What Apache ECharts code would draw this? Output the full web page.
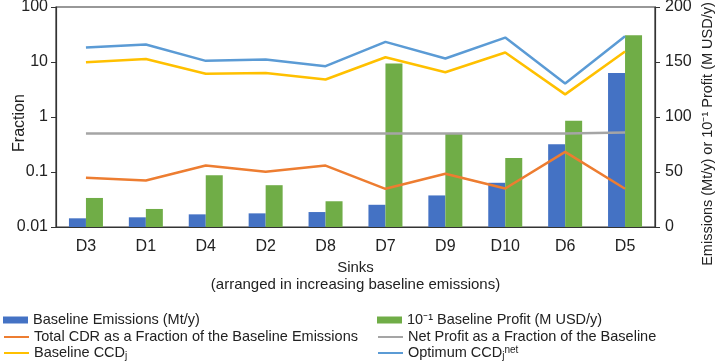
<!DOCTYPE html>
<html>
<head>
<meta charset="utf-8">
<script src="https://cdn.jsdelivr.net/npm/echarts@6/dist/echarts.min.js"></script>
<style>
html,body{margin:0;padding:0;background:#fff;}
#c{width:721px;height:363px;}
</style>
</head>
<body>
<div id="c"></div>
<script>
const categories = ['D3','D1','D4','D2','D8','D7','D9','D10','D6','D5'];
const baselineEmissions = [7.9, 8.8, 11.5, 12.4, 13.6, 20.2, 28.7, 40.2, 75.2, 139.9];
const baselineProfitTenth = [26.4, 16.4, 47, 38, 23.4, 148.6, 85.2, 62.8, 96.7, 174.3];
const cdrFraction = [0.079, 0.070, 0.131, 0.101, 0.131, 0.0495, 0.093, 0.050, 0.232, 0.0495];
const netProfitFraction = [0.5, 0.5, 0.5, 0.5, 0.5, 0.5, 0.5, 0.5, 0.5, 0.52];
const baselineCCD = [9.9, 11.3, 6.1, 6.3, 4.8, 12.2, 6.5, 14.9, 2.58, 15.5];
const optimumCCD = [18.3, 20.8, 10.5, 11.1, 8.4, 23.2, 11.6, 27.8, 4.07, 29.4];
const leftTicks = [0.01, 0.1, 1, 10, 100];
const rightTicks = [0, 50, 100, 150, 200];

const FONT = 'Liberation Sans';
const TXT = '#222';
const names = {
  em: 'Baseline Emissions (Mt/y)',
  pr: '10\u207B\u00B9 Baseline Profit (M USD/y)',
  cdr: 'Total CDR as a Fraction of the Baseline Emissions',
  np: 'Net Profit as a Fraction of the Baseline',
  bccd: 'Baseline CCDj',
  occd: 'Optimum CCDj net'
};
const legendFmt = function (n) {
  if (n === names.bccd) return 'Baseline CCD{sub|j}';
  if (n === names.occd) return 'Optimum CCD{sub|j}{sup|net}';
  return n;
};
const legendText = {
  fontFamily: FONT, fontSize: 14.5, color: TXT, lineHeight: 16,
  rich: {
    sub: {fontFamily: FONT, fontSize: 10, color: TXT, verticalAlign: 'bottom', lineHeight: 16},
    sup: {fontFamily: FONT, fontSize: 10, color: TXT, verticalAlign: 'top', lineHeight: 16}
  }
};
function oneLegend(name, isBar, left, top) {
  return {
    orient: 'horizontal', left: left, top: top, itemWidth: 25, itemHeight: 7, padding: 0,
    data: [isBar ? {name: name, icon: 'rect'} : {name: name, itemStyle: {opacity: 0}}],
    formatter: legendFmt, textStyle: legendText, selectedMode: false
  };
}

const chart = echarts.init(document.getElementById('c'), null, {renderer: 'canvas'});
chart.setOption({
  animation: false,
  backgroundColor: '#fff',
  textStyle: {fontFamily: FONT},
  grid: {left: 56, right: 66, top: 7, bottom: 136, containLabel: false, outerBoundsMode: 'none',
         show: true, borderColor: '#333', borderWidth: 1.2},
  legend: [
    oneLegend(names.em, true, 3, 312),
    oneLegend(names.cdr, false, 3, 329),
    oneLegend(names.bccd, false, 3, 345),
    oneLegend(names.pr, true, 377, 312),
    oneLegend(names.np, false, 377, 329),
    oneLegend(names.occd, false, 377, 345)
  ],
  xAxis: {
    type: 'category', data: categories, boundaryGap: true,
    name: 'Sinks\n(arranged in increasing baseline emissions)',
    nameLocation: 'middle', nameGap: 32, nameMoveOverlap: false,
    nameTextStyle: {fontFamily: FONT, fontSize: 15, color: TXT, lineHeight: 17},
    axisLine: {lineStyle: {color: '#333', width: 1.2}},
    axisTick: {show: false},
    axisLabel: {fontFamily: FONT, fontSize: 16, color: TXT, margin: 12}
  },
  yAxis: [
    {type: 'log', logBase: 10, min: leftTicks[0], max: leftTicks[leftTicks.length - 1],
     name: 'Fraction', nameLocation: 'middle', nameGap: 28, nameMoveOverlap: false,
     nameTextStyle: {fontFamily: FONT, fontSize: 16, color: TXT, padding: [0, 12, 0, 0]},
     axisLine: {show: true, lineStyle: {color: '#333', width: 1.2}},
     axisTick: {show: true, inside: false, length: 5, lineStyle: {color: '#333'}},
     minorTick: {show: false}, splitLine: {show: false},
     axisLabel: {fontFamily: FONT, fontSize: 16, color: TXT, margin: 8,
       formatter: function (v) { return String(+v.toPrecision(3)); }}},
    {type: 'value', min: rightTicks[0], max: rightTicks[rightTicks.length - 1], interval: 50,
     position: 'right',
     name: 'Emissions (Mt/y) or 10\u207B\u00B9 Profit (M USD/y)', nameLocation: 'middle', nameGap: 45,
     nameMoveOverlap: false,
     nameTextStyle: {fontFamily: FONT, fontSize: 14.5, color: TXT, padding: [0, 34, 0, 0]},
     axisLine: {show: true, lineStyle: {color: '#333', width: 1.2}},
     axisTick: {show: true, inside: false, length: 5, lineStyle: {color: '#333'}},
     splitLine: {show: false},
     axisLabel: {fontFamily: FONT, fontSize: 16, color: TXT, margin: 10}}
  ],
  series: [
    {name: names.em, type: 'bar', yAxisIndex: 1, data: baselineEmissions,
     itemStyle: {color: '#4472C4'}, barWidth: 17, barGap: '0%', z: 1},
    {name: names.pr, type: 'bar', yAxisIndex: 1, data: baselineProfitTenth,
     itemStyle: {color: '#70AD47'}, barWidth: 17, barGap: '0%', z: 1},
    {name: names.cdr, type: 'line', yAxisIndex: 0, data: cdrFraction, symbol: 'none',
     lineStyle: {color: '#ED7D31', width: 2.5}, itemStyle: {color: '#ED7D31'}, z: 3},
    {name: names.np, type: 'line', yAxisIndex: 0, data: netProfitFraction, symbol: 'none',
     lineStyle: {color: '#A5A5A5', width: 2.5}, itemStyle: {color: '#A5A5A5'}, z: 3},
    {name: names.bccd, type: 'line', yAxisIndex: 0, data: baselineCCD, symbol: 'none',
     lineStyle: {color: '#FFC000', width: 2.5}, itemStyle: {color: '#FFC000'}, z: 3},
    {name: names.occd, type: 'line', yAxisIndex: 0, data: optimumCCD, symbol: 'none',
     lineStyle: {color: '#5B9BD5', width: 2.5}, itemStyle: {color: '#5B9BD5'}, z: 3}
  ]
});
</script>
</body>
</html>
